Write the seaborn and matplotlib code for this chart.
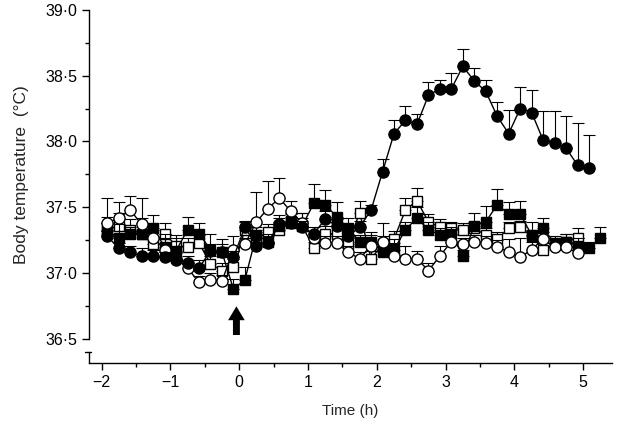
"""Body temperature time course after injection (four groups)."""

import matplotlib
matplotlib.use('Agg')
import matplotlib.pyplot as plt
import matplotlib.ticker as mticker
import numpy as np
import seaborn as sns

# time points in minutes relative to injection (10 min bins)
time_min = [-115, -105, -95, -85, -75, -65, -55, -45, -35, -25, -15, -5,
            5, 15, 25, 35, 45, 55, 65, 75, 85, 95, 105, 115, 125, 135,
            145, 155, 165, 175, 185, 195, 205, 215, 225, 235, 245, 255,
            265, 275, 285, 295, 305, 315]

filled_circle = [37.28, 37.19, 37.16, 37.13, 37.13, 37.12, 37.10, 37.08,
                 37.04, 37.17, 37.16, 37.12, 37.35, 37.21, 37.23, 37.37,
                 37.38, 37.35, 37.30, 37.41, 37.36, 37.28, 37.35, 37.48,
                 37.77, 38.06, 38.16, 38.13, 38.35, 38.40, 38.40, 38.57,
                 38.46, 38.38, 38.19, 38.06, 38.25, 38.22, 38.01, 37.99,
                 37.95, 37.82, 37.80]
filled_circle_se = [0.04, 0.04, 0.05, 0.06, 0.05, 0.04, 0.05, 0.05,
                    0.06, 0.05, 0.06, 0.05, 0.05, 0.06, 0.05, 0.05,
                    0.05, 0.05, 0.05, 0.06, 0.05, 0.05, 0.05, 0.04,
                    0.10, 0.10, 0.11, 0.08, 0.10, 0.07, 0.12, 0.13,
                    0.10, 0.09, 0.11, 0.18, 0.16, 0.17, 0.22, 0.24,
                    0.24, 0.32, 0.25]

filled_square = [37.32, 37.27, 37.30, 37.30, 37.34, 37.20, 37.17, 37.33,
                 37.30, 37.18, 37.16, 36.88, 36.95, 37.29, 37.24, 37.36,
                 37.38, 37.36, 37.53, 37.52, 37.43, 37.34, 37.24, 37.24,
                 37.16, 37.18, 37.33, 37.42, 37.33, 37.29, 37.30, 37.13,
                 37.36, 37.39, 37.52, 37.45, 37.45, 37.29, 37.34, 37.23,
                 37.24, 37.21, 37.19, 37.27]
filled_square_se = [0.06, 0.10, 0.05, 0.12, 0.10, 0.10, 0.12, 0.10,
                    0.08, 0.12, 0.10, 0.08, 0.10, 0.06, 0.06, 0.08,
                    0.08, 0.10, 0.15, 0.11, 0.11, 0.08, 0.05, 0.07,
                    0.05, 0.08, 0.06, 0.08, 0.06, 0.05, 0.05, 0.05,
                    0.10, 0.12, 0.12, 0.09, 0.10, 0.10, 0.08, 0.05,
                    0.06, 0.06, 0.05, 0.08]

open_circle = [37.38, 37.42, 37.48, 37.37, 37.27, 37.18, 37.11, 37.04,
               36.93, 36.95, 36.94, 37.18, 37.22, 37.39, 37.49, 37.57,
               37.47, 37.38, 37.27, 37.23, 37.23, 37.16, 37.11, 37.21,
               37.24, 37.13, 37.11, 37.11, 37.02, 37.13, 37.24, 37.22,
               37.24, 37.23, 37.20, 37.16, 37.12, 37.18, 37.26, 37.20,
               37.20, 37.15]
open_circle_se = [0.19, 0.12, 0.11, 0.20, 0.06, 0.09, 0.05, 0.06,
                  0.05, 0.05, 0.05, 0.10, 0.05, 0.23, 0.21, 0.15,
                  0.08, 0.08, 0.05, 0.05, 0.05, 0.05, 0.05, 0.08,
                  0.14, 0.10, 0.10, 0.06, 0.06, 0.08, 0.05, 0.05,
                  0.05, 0.05, 0.05, 0.10, 0.15, 0.06, 0.05, 0.05,
                  0.05, 0.05]

open_square = [37.33, 37.36, 37.33, 37.30, 37.22, 37.30, 37.21, 37.20,
               37.23, 37.07, 37.02, 37.05, 37.33, 37.27, 37.31, 37.33,
               37.40, 37.36, 37.19, 37.30, 37.30, 37.22, 37.46, 37.11,
               37.22, 37.26, 37.48, 37.55, 37.39, 37.35, 37.34, 37.33,
               37.34, 37.29, 37.26, 37.34, 37.35, 37.28, 37.18, 37.22,
               37.24, 37.27]
open_square_se = [0.10, 0.10, 0.08, 0.08, 0.06, 0.08, 0.06, 0.07,
                  0.06, 0.06, 0.06, 0.06, 0.06, 0.06, 0.06, 0.06,
                  0.05, 0.06, 0.05, 0.06, 0.06, 0.05, 0.09, 0.06,
                  0.06, 0.06, 0.09, 0.10, 0.06, 0.06, 0.05, 0.05,
                  0.05, 0.05, 0.05, 0.05, 0.05, 0.05, 0.05, 0.05,
                  0.06, 0.07]

ytick_values = [36.5, 37.0, 37.5, 38.0, 38.5, 39.0]
xtick_values = [-2, -1, 0, 1, 2, 3, 4, 5]


def _draw_series(ax, values, se, marker, face, size, z):
    hours = np.array(time_min[:len(values)]) / 60
    values = np.array(values)
    ax.errorbar(hours, values, yerr=[np.zeros(len(se)), se], fmt='none',
                ecolor='black', elinewidth=0.8, capsize=4.5, capthick=0.8,
                zorder=z - 0.5)
    sns.lineplot(x=hours, y=values, ax=ax, color='black', linewidth=1.0,
                 marker=marker, markersize=size, markerfacecolor=face,
                 markeredgecolor='black', markeredgewidth=1.0, zorder=z)


sns.set_style('ticks')
plt.rcParams['font.family'] = ['Liberation Sans', 'DejaVu Sans']

fig = plt.figure(figsize=(6.19, 4.43), dpi=100)
ax = fig.add_axes([0.144, 0.181, 0.845, 0.797])

_draw_series(ax, open_square, open_square_se, 's', 'white', 7.5, 3)
_draw_series(ax, filled_square, filled_square_se, 's', 'black', 7.5, 4)
_draw_series(ax, open_circle, open_circle_se, 'o', 'white', 8, 5)
_draw_series(ax, filled_circle, filled_circle_se, 'o', 'black', 8, 6)

ax.set_xlim(-2.18, 5.42)
ax.set_ylim(36.32, 39.0)

ax.set_yticks(ytick_values)
ax.yaxis.set_minor_locator(mticker.MultipleLocator(0.25))
ax.yaxis.set_major_formatter(
    mticker.FuncFormatter(lambda v, _: f'{v:.1f}'.replace('.', '\u00b7')))
ax.set_xticks(xtick_values)
ax.xaxis.set_minor_locator(mticker.MultipleLocator(0.5))
ax.tick_params(axis='both', which='major', direction='out', length=5,
               width=1, labelsize=11.5, colors='black')
ax.tick_params(axis='both', which='minor', direction='out', length=3,
               width=1, colors='black')

sns.despine(ax=ax)
ax.spines['left'].set_bounds(36.5, 39.0)
ax.spines['left'].set_linewidth(1)
ax.spines['bottom'].set_linewidth(1)
ax.spines['left'].set_color('black')
ax.spines['bottom'].set_color('black')

# broken axis stub at the bottom of the y axis
trans = ax.get_yaxis_transform()
ax.plot([0, 0], [36.32, 36.40], transform=trans, color='black', lw=1,
        clip_on=False)
ax.plot([-0.008, 0.004], [36.40, 36.40], transform=trans, color='black',
        lw=1, clip_on=False)

# injection arrow
ax.annotate('', xy=(-0.04, 36.77), xytext=(-0.04, 36.51),
            arrowprops=dict(arrowstyle='simple,head_width=1.2,head_length=1.0,tail_width=0.5',
                            color='black', lw=0))

ax.set_xlabel('Time (h)', fontsize=11, labelpad=10)
ax.set_ylabel('Body temperature  (\u00b0C)', fontsize=12.5)
ax.yaxis.set_label_coords(-0.115, 0.533)

fig.savefig('out.png', dpi=100)
